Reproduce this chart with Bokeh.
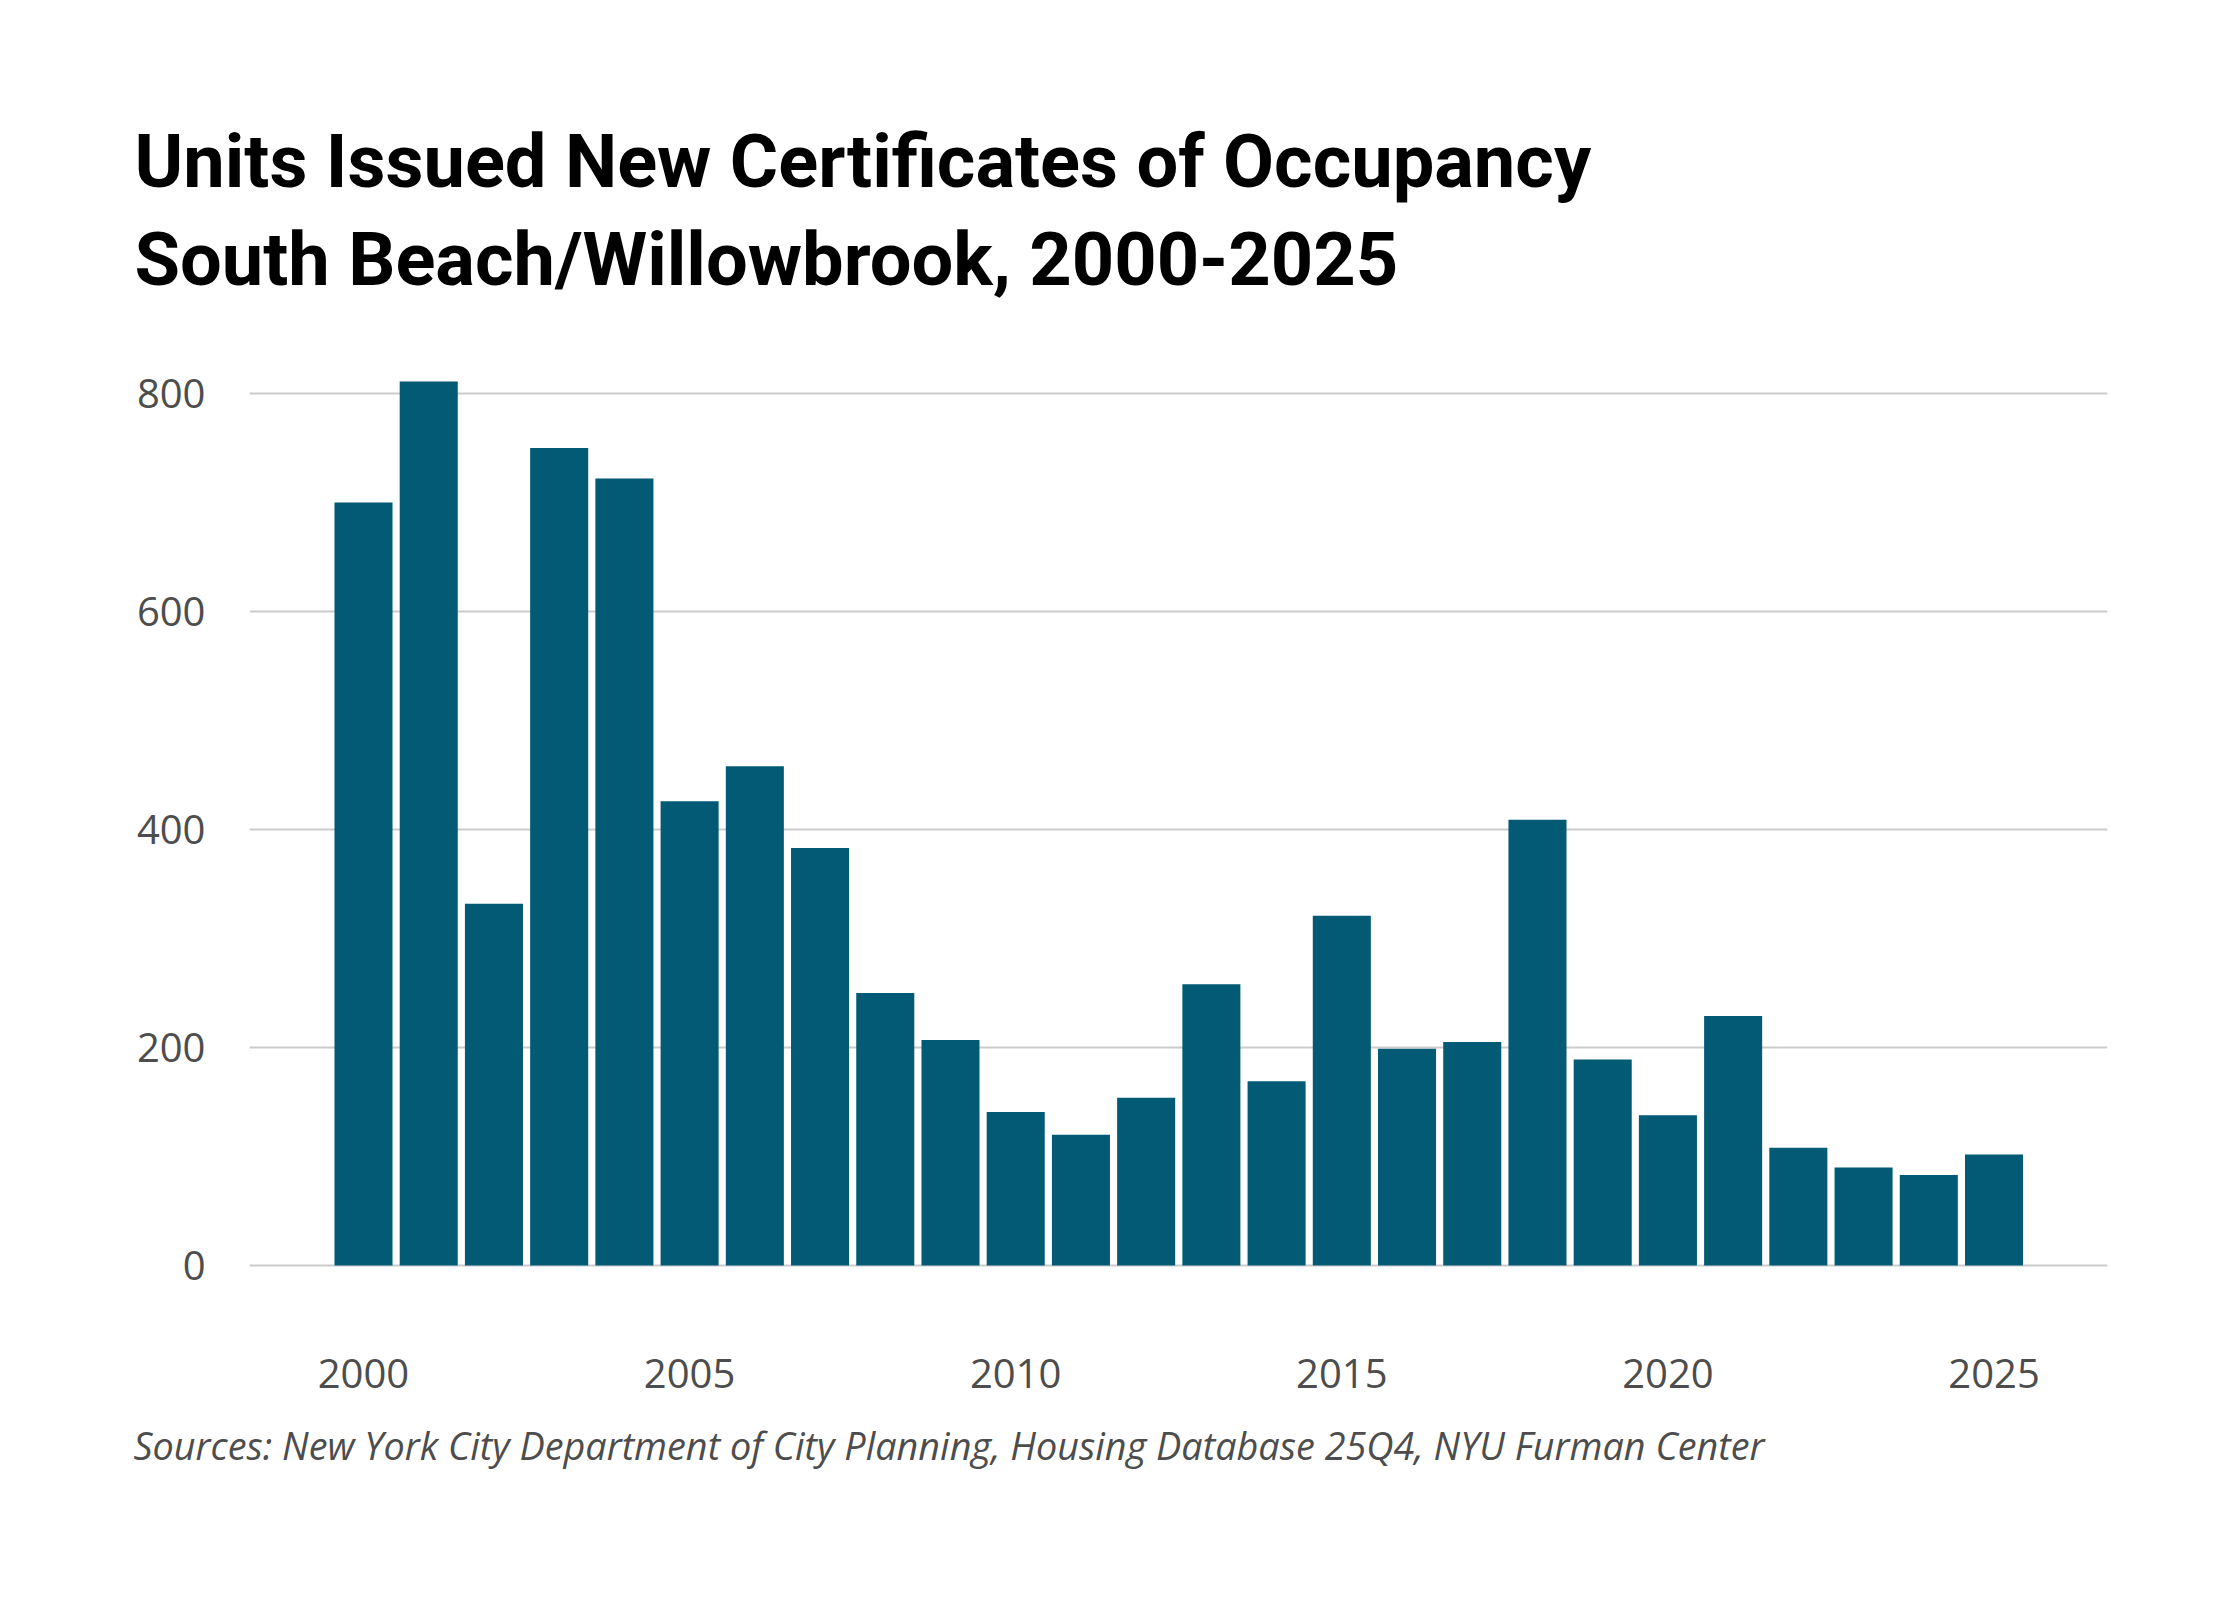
from bokeh.plotting import figure
from bokeh.models import Range1d, FixedTicker, Title, ColumnDataSource
from bokeh.embed import file_html
from bokeh.resources import INLINE

years = list(range(2000, 2026))
units = [700, 811, 332, 750, 722, 426, 458, 383, 250, 207, 141, 120, 154,
         258, 169, 321, 199, 205, 409, 189, 138, 229, 108, 90, 83, 102]
y_ticks = [0, 200, 400, 600, 800]
x_ticks = [2000, 2005, 2010, 2015, 2020, 2025]
title_line1 = "Units Issued New Certificates of Occupancy"
title_line2 = "South Beach/Willowbrook, 2000-2025"
source_note = "Sources: New York City Department of City Planning, Housing Database 25Q4, NYU Furman Center"

BAR = "#025a75"
GRID = "#cccccc"
TICK = "#4d4d4d"

src = ColumnDataSource(dict(year=years, units=units))

p = figure(width=2224, height=1584, output_backend="svg", toolbar_location=None,
           x_range=Range1d(1998.252, 2026.74), y_range=Range1d(-10, 877),
           min_border_left=249, min_border_right=117,
           min_border_top=309, min_border_bottom=308,
           background_fill_color="white", border_fill_color="white")
p.outline_line_color = None
p.title.visible = False

p.vbar(x="year", top="units", width=0.89, source=src, fill_color=BAR, line_color=None)

p.xgrid.visible = False
p.ygrid.grid_line_color = GRID
p.ygrid.grid_line_width = 2
p.yaxis.ticker = FixedTicker(ticks=y_ticks)
p.xaxis.ticker = FixedTicker(ticks=x_ticks)

for ax in (p.xaxis[0], p.yaxis[0]):
    ax.axis_line_color = None
    ax.major_tick_line_color = None
    ax.minor_tick_line_color = None
    ax.major_tick_out = 0
    ax.major_tick_in = 0
    ax.minor_tick_out = 0
    ax.major_label_text_font = "Open Sans"
    ax.major_label_text_font_size = "40px"
    ax.major_label_text_color = TICK

p.yaxis.major_label_standoff = 44
p.xaxis.major_label_standoff = 82

t2 = Title(text=title_line2, align="left", offset=-115, text_font="Roboto",
           text_font_size="74px", text_font_style="bold", text_color="black", standoff=13)
t1 = Title(text=title_line1, align="left", offset=-115, text_font="Roboto",
           text_font_size="74px", text_font_style="bold", text_color="black", standoff=5)
p.add_layout(t2, "above")
p.add_layout(t1, "above")

s = Title(text=source_note, align="left", offset=-116, text_font="Open Sans",
          text_font_size="37.8px", text_font_style="italic", text_color=TICK, standoff=55)
p.add_layout(s, "below")

open("out.html", "w").write(file_html(p, INLINE))
